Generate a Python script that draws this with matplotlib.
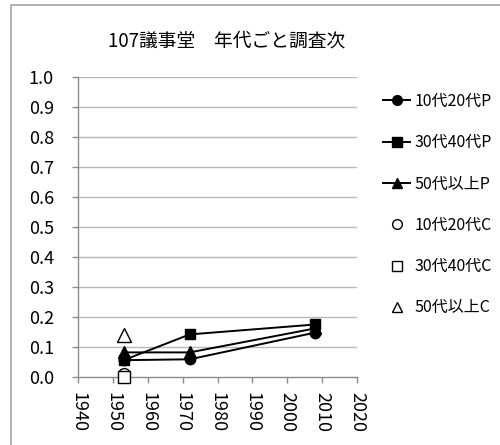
import matplotlib
matplotlib.use("Agg")
import matplotlib.pyplot as plt
from matplotlib.lines import Line2D
from matplotlib.patches import Rectangle

plt.rcParams['font.family'] = ['Noto Sans CJK JP', 'DejaVu Sans']

# Survey years and ratios by age group
years_p = [1953, 1972, 2008]
p_10s20s = [0.055, 0.058, 0.147]
p_30s40s = [0.055, 0.141, 0.174]
p_50plus = [0.081, 0.081, 0.161]

years_c = [1953]
c_10s20s = [0.008]
c_30s40s = [0.0]
c_50plus = [0.139]

labels = ['10代20代P', '30代40代P', '50代以上P', '10代20代C', '30代40代C', '50代以上C']
title = '107議事堂　年代ごと調査次'
x_ticks = [1940, 1950, 1960, 1970, 1980, 1990, 2000, 2010, 2020]
y_ticks = [0.0, 0.1, 0.2, 0.3, 0.4, 0.5, 0.6, 0.7, 0.8, 0.9, 1.0]

fig = plt.figure(figsize=(5.0, 4.45), dpi=100)
ax = fig.add_axes([0.1566, 0.1535, 0.5574, 0.6741])

grid_c = '#b9b9b9'
axis_c = '#8c8c8c'
for y in y_ticks[1:]:
    ax.axhline(y, color=grid_c, lw=1.0, zorder=0)

lw = 1.4
ax.plot(years_p, p_10s20s, color='black', lw=lw, marker='o', ms=7.5, clip_on=False, zorder=3)
ax.plot(years_p, p_30s40s, color='black', lw=lw, marker='s', ms=7.0, clip_on=False, zorder=3)
ax.plot(years_p, p_50plus, color='black', lw=lw, marker='^', ms=8.0, clip_on=False, zorder=3)
ax.plot(years_c, c_10s20s, ls='none', marker='o', ms=8.5, mfc='white', mec='black', mew=1.0, clip_on=False, zorder=4)
ax.plot(years_c, c_30s40s, ls='none', marker='s', ms=8.5, mfc='white', mec='black', mew=1.0, clip_on=False, zorder=4)
ax.plot(years_c, c_50plus, ls='none', marker='^', ms=9.5, mfc='white', mec='black', mew=1.0, clip_on=False, zorder=4)

ax.set_xlim(1940, 2020)
ax.set_ylim(0, 1.0)
ax.set_xticks(x_ticks)
ax.set_xticklabels([str(v) for v in x_ticks], rotation=-90, fontsize=13)
ax.set_yticks(y_ticks)
ax.set_yticklabels([f'{v:.1f}' for v in y_ticks], fontsize=13)
ax.tick_params(axis='x', direction='out', length=4, width=1, color=axis_c, pad=7)
ax.tick_params(axis='y', direction='out', length=4.5, width=1, color=axis_c, pad=13)
for s in ['top', 'right']:
    ax.spines[s].set_visible(False)
for s in ['left', 'bottom']:
    ax.spines[s].set_color(axis_c)
    ax.spines[s].set_linewidth(1.0)

fig.text(0.453, 1 - 41 / 445, title, ha='center', va='center', fontsize=13.5)

handles = [
    Line2D([], [], color='black', lw=lw, marker='o', ms=7.0),
    Line2D([], [], color='black', lw=lw, marker='s', ms=6.5),
    Line2D([], [], color='black', lw=lw, marker='^', ms=7.5),
    Line2D([], [], ls='none', marker='o', ms=7.0, mfc='white', mec='black', mew=1.0),
    Line2D([], [], ls='none', marker='s', ms=7.0, mfc='white', mec='black', mew=1.0),
    Line2D([], [], ls='none', marker='^', ms=7.5, mfc='white', mec='black', mew=1.0),
]
fig.legend(handles, labels, loc='upper left', bbox_to_anchor=(383 / 500, 1 - 93 / 445),
           frameon=False, fontsize=11.5, handlelength=1.7, handletextpad=0.25,
           labelspacing=1.52, borderaxespad=0, borderpad=0)

fig.patches.append(Rectangle((11 / 500, -0.1), 1.2, 1 - 5 / 445 + 0.1, transform=fig.transFigure,
                             fill=False, edgecolor='#a6a6a6', lw=1.2))

fig.savefig('out.png', dpi=100)
